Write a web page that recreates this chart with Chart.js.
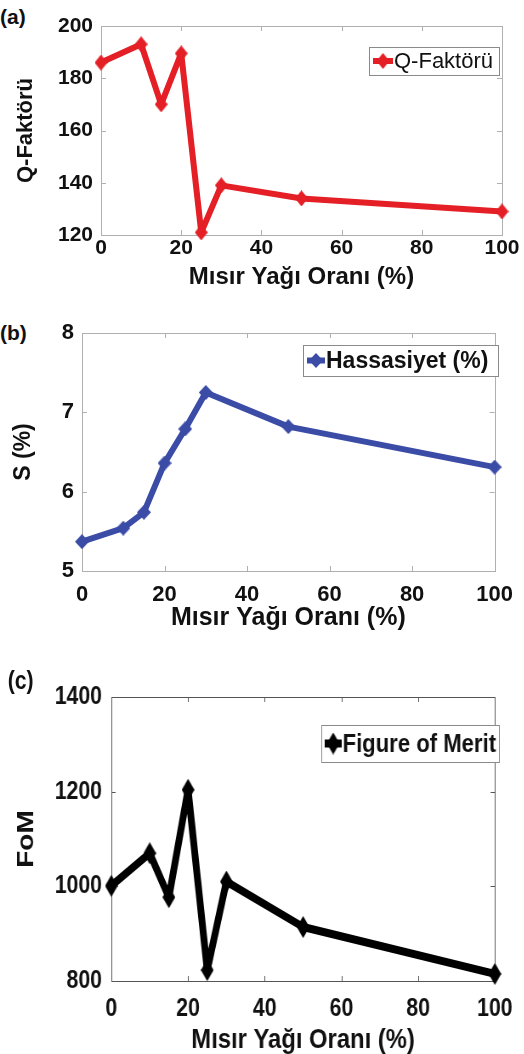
<!DOCTYPE html>
<html>
<head>
<meta charset="utf-8">
<script src="https://cdn.jsdelivr.net/npm/chart.js@4/dist/chart.umd.min.js"></script>
<style>
  body { margin: 0; background: #fff; width: 524px; height: 1054px; position: relative; overflow: hidden; }
  canvas { position: absolute; left: 0; }
  .tag { position: absolute; font-family: 'Liberation Sans', Arial, sans-serif; font-weight: bold; color: #111; }
  #panelC { position: absolute; left: 0; top: 660px; width: 616px; height: 394px; transform: scaleX(0.85); transform-origin: 0 0; }
</style>
</head>
<body>
<div class="tag" style="left:0;top:5px;font-size:21px">(a)</div>
<canvas id="chartA" width="524" height="295" style="top:0"></canvas>
<div class="tag" style="left:0;top:321px;font-size:21px">(b)</div>
<canvas id="chartB" width="524" height="340" style="top:300px"></canvas>
<div id="panelC">
  <div class="tag" style="left:9px;top:6px;font-size:25px">(c)</div>
  <canvas id="chartC" width="616" height="394" style="top:0"></canvas>
</div>
<script>
// corn oil ratio (%) on the x axis
const ratio = [0, 10, 15, 20, 25, 30, 50, 100];
const qFactor = [186, 193, 170, 189.5, 121, 139, 134, 129];
const sensitivity = [5.37, 5.54, 5.74, 6.36, 6.79, 7.25, 6.82, 6.31];
const fom = [1001, 1070, 977, 1204, 823, 1010, 914, 815];

const xTitle = 'Mısır Yağı Oranı (%)';

// MATLAB-like diamond marker, a bit taller than wide
function makeDiamond(color, w, h) {
  const c = document.createElement('canvas');
  c.width = w; c.height = h;
  const g = c.getContext('2d');
  g.fillStyle = color;
  g.beginPath();
  g.moveTo(w / 2, 0);
  g.lineTo(w, h / 2);
  g.lineTo(w / 2, h);
  g.lineTo(0, h / 2);
  g.closePath();
  g.fill();
  return c;
}

// box around the plot with inward ticks
const frameTicks = {
  id: 'frameTicks',
  beforeDatasetsDraw(chart, args, opts) {
    const { ctx, chartArea: a, scales: { x, y } } = chart;
    const len = 5;
    ctx.save();
    ctx.strokeStyle = opts.color || '#aaa';
    ctx.lineWidth = 1;
    ctx.strokeRect(Math.round(a.left) + 0.5, Math.round(a.top) + 0.5, Math.round(a.width), Math.round(a.height));
    ctx.beginPath();
    x.ticks.forEach(t => {
      const px = Math.round(x.getPixelForValue(t.value)) + 0.5;
      ctx.moveTo(px, a.bottom); ctx.lineTo(px, a.bottom - len);
      ctx.moveTo(px, a.top); ctx.lineTo(px, a.top + len);
    });
    y.ticks.forEach(t => {
      const py = Math.round(y.getPixelForValue(t.value)) + 0.5;
      ctx.moveTo(a.left, py); ctx.lineTo(a.left + len, py);
      ctx.moveTo(a.right, py); ctx.lineTo(a.right - len, py);
    });
    ctx.stroke();
    ctx.restore();
  }
};

// boxed legend entry inside the plot
const boxLegend = {
  id: 'boxLegend',
  afterDatasetsDraw(chart, args, o) {
    const { ctx } = chart;
    const ds = chart.data.datasets[0];
    const cy = o.y + o.h / 2;
    ctx.save();
    ctx.fillStyle = '#fff';
    ctx.fillRect(o.x, o.y, o.w, o.h);
    ctx.strokeStyle = '#8a8a8a';
    ctx.lineWidth = 1;
    ctx.strokeRect(o.x + 0.5, o.y + 0.5, o.w, o.h);
    ctx.strokeStyle = ds.borderColor;
    ctx.lineWidth = ds.borderWidth;
    ctx.beginPath();
    ctx.moveTo(o.x + 4, cy);
    ctx.lineTo(o.x + o.mark * 2 - 4, cy);
    ctx.stroke();
    const img = ds.pointStyle;
    ctx.drawImage(img, o.x + o.mark - img.width / 2, cy - img.height / 2);
    ctx.fillStyle = '#111';
    ctx.font = o.font;
    ctx.textBaseline = 'middle';
    ctx.fillText(ds.label, o.x + o.mark * 2 - 3, cy + 1);
    ctx.restore();
  }
};

function makeChart(id, cfg) {
  const fam = "'Liberation Sans', Arial, sans-serif";
  return new Chart(document.getElementById(id), {
    type: 'line',
    data: {
      datasets: [{
        label: cfg.label,
        data: ratio.map((r, i) => ({ x: r, y: cfg.values[i] })),
        borderColor: cfg.color,
        backgroundColor: cfg.color,
        borderWidth: cfg.lineWidth,
        borderJoinStyle: 'round',
        pointStyle: makeDiamond(cfg.color, cfg.marker[0], cfg.marker[1]),
        tension: 0,
        clip: false
      }]
    },
    options: {
      responsive: false,
      animation: false,
      devicePixelRatio: 1,
      layout: { padding: cfg.padding },
      plugins: {
        legend: { display: false },
        tooltip: { enabled: false },
        frameTicks: { color: cfg.frame },
        boxLegend: cfg.legend
      },
      scales: {
        x: {
          type: 'linear', min: 0, max: 100,
          ticks: { stepSize: 20, color: '#111', padding: cfg.xTickPad, callback: v => v, font: { family: fam, weight: 'bold', size: cfg.tickSize } },
          grid: { display: false, drawTicks: false },
          border: { display: false },
          title: { display: true, text: xTitle, color: '#111', padding: { top: 0, bottom: cfg.xTitlePad }, font: { family: fam, weight: 'bold', size: cfg.xTitleSize } },
          afterFit: s => { s.height = cfg.xHeight; }
        },
        y: {
          min: cfg.yMin, max: cfg.yMax,
          ticks: { stepSize: cfg.yStep, color: '#111', padding: cfg.yTickPad, callback: v => v, font: { family: fam, weight: 'bold', size: cfg.tickSize } },
          grid: { display: false, drawTicks: false },
          border: { display: false },
          title: { display: true, text: cfg.yTitle, color: '#111', padding: cfg.yTitlePad, font: { family: fam, weight: 'bold', size: cfg.yTitleSize } },
          afterFit: s => { s.width = cfg.yWidth; }
        }
      }
    },
    plugins: [frameTicks, boxLegend]
  });
}

makeChart('chartA', {
  label: 'Q-Faktörü', values: qFactor, color: '#e41f26', lineWidth: 6, marker: [13, 16],
  tickSize: 21, xTitleSize: 24, yTitleSize: 22,
  padding: { top: 26, right: 22, left: 0, bottom: 0 },
  xHeight: 60, yWidth: 101, xTickPad: 1, xTitlePad: 3, yTickPad: 8, yTitlePad: 13,
  yMin: 120, yMax: 200, yStep: 20, yTitle: 'Q-Faktörü', frame: '#b0b0b0',
  legend: { x: 369, y: 47, w: 130, h: 28, mark: 14, font: "22px 'Liberation Sans', Arial, sans-serif" }
});

makeChart('chartB', {
  label: 'Hassasiyet (%)', values: sensitivity, color: '#3b4ca6', lineWidth: 6, marker: [14, 15],
  tickSize: 22, xTitleSize: 25, yTitleSize: 23,
  padding: { top: 33, right: 24, left: 0, bottom: 0 },
  xHeight: 69, yWidth: 82, xTickPad: 11, xTitlePad: 7, yTickPad: 8, yTitlePad: 10,
  yMin: 5, yMax: 8, yStep: 1, yTitle: 'S (%)', frame: '#b0b0b0',
  legend: { x: 303, y: 45, w: 195, h: 31, mark: 13, font: "bold 23px 'Liberation Sans', Arial, sans-serif" }
});

// panel (c) is laid out 616 wide and squeezed to 524 by the container
makeChart('chartC', {
  label: 'Figure of Merit', values: fom, color: '#000000', lineWidth: 8, marker: [15, 22],
  tickSize: 25, xTitleSize: 28, yTitleSize: 28,
  padding: { top: 37, right: 28, left: 0, bottom: 0 },
  xHeight: 73, yWidth: 131, xTickPad: 13, xTitlePad: -3, yTickPad: 11, yTitlePad: 14,
  yMin: 800, yMax: 1400, yStep: 200, yTitle: 'FoM', frame: '#555555',
  legend: { x: 378, y: 65, w: 209, h: 37, mark: 14, font: "bold 26px 'Liberation Sans', Arial, sans-serif" }
});
</script>
</body>
</html>
